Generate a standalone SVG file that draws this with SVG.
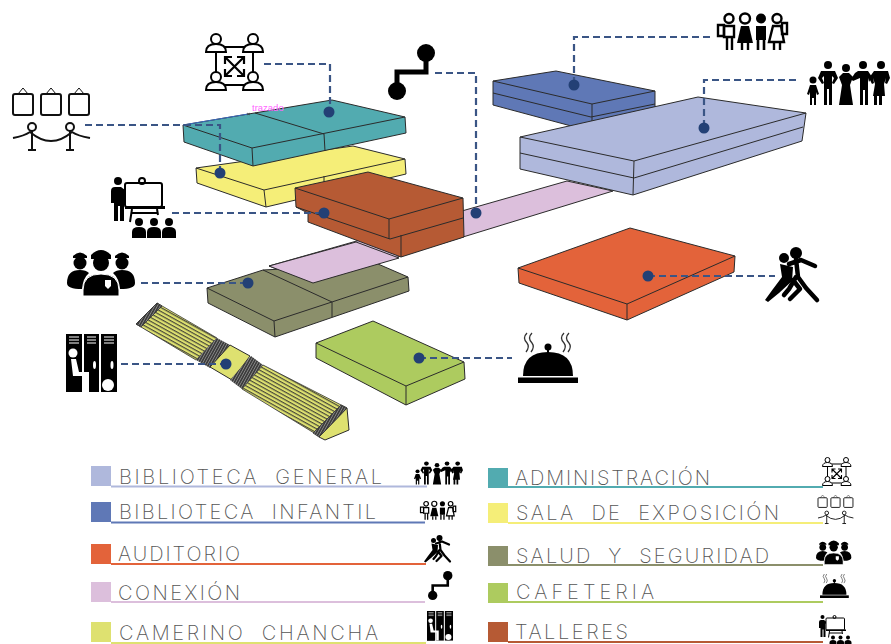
<svg xmlns="http://www.w3.org/2000/svg" width="891" height="644" viewBox="0 0 891 644">
<style>
.e{stroke:#2b2b2b;stroke-width:1;stroke-linejoin:round}
.l{fill:none;stroke:#2b2b2b;stroke-width:1}
.teal{fill:#52ABB0}.yel{fill:#F5EE78}.bro{fill:#B65A34}.pin{fill:#DCBFDC}.oli{fill:#8B8F6B}.gre{fill:#ADCB5F}.cam{fill:#DEE170}.ora{fill:#E3633A}.lil{fill:#AFB8DC}.blu{fill:#5F78B6}
.c{fill:none;stroke:#3A5585;stroke-width:2.2;stroke-dasharray:7 4}
.d{fill:#234075}
.t{font-family:"Inter","Liberation Sans",sans-serif;font-weight:200;font-size:20px;fill:#555;word-spacing:8px}
.u{stroke-width:2;fill:none}
</style>
<defs>
<pattern id="st" width="5" height="3.4" patternUnits="userSpaceOnUse" patternTransform="rotate(29)">
<rect width="5" height="3.4" fill="#DEE170"/><rect y="0" width="5" height="1.200" fill="#4a4a3a"/>
</pattern>
<pattern id="dk" width="2.4" height="5" patternUnits="userSpaceOnUse" patternTransform="rotate(29)">
<rect width="2.4" height="5" fill="#3c3c3c"/><rect width="0.8" height="5" fill="#8a8a8a"/>
</pattern>
<g id="ico-admin">
<rect x="11" y="14" width="37" height="38" fill="none" stroke="#000" stroke-width="2"/>
<g fill="#fff" stroke="#000" stroke-width="2">
<path d="M1 19c0-6 5-8 10-8s10 2 10 8z"/><circle cx="11" cy="6" r="5"/>
<path d="M38 19c0-6 5-8 10-8s10 2 10 8z"/><circle cx="48" cy="6" r="5"/>
<path d="M1 57c0-6 5-8 10-8s10 2 10 8z"/><circle cx="11" cy="44" r="5"/>
<path d="M38 57c0-6 5-8 10-8s10 2 10 8z"/><circle cx="48" cy="44" r="5"/>
</g>
<path d="M20 24L39 43M39 24L20 43M20 31V24H27M32 24H39V31M20 36V43H27M32 43H39V36" fill="none" stroke="#000" stroke-width="2.2"/>
</g>
<g id="ico-expo" fill="none" stroke="#111" stroke-width="2">
<rect x="0" y="6" width="20" height="21" rx="2"/><rect x="28" y="6" width="20" height="21" rx="2"/><rect x="56" y="6" width="20" height="21" rx="2"/>
<path stroke-width="1" d="M5 6L10 0L15 6M33 6L38 0L43 6M61 6L66 0L71 6"/>
<circle cx="19" cy="39" r="4"/><circle cx="57" cy="39" r="4"/>
<path d="M19 43V62M15 62H23M57 43V62M53 62H61M0 50Q11 48 17 44Q38 62 59 44Q65 48 77 50"/>
</g>
<g id="ico-talleres">
<circle cx="7" cy="4" r="4"/>
<path d="M0 14q0-4 4-4h6l8 6 7-3 1 3-8 4-5-3v27h-4V29h-2v15H3V26H0z"/>
<rect x="14" y="6" width="37" height="24" rx="2" fill="#fff" stroke="#000" stroke-width="2"/>
<circle cx="31" cy="4" r="3" fill="none" stroke="#000" stroke-width="2"/>
<rect x="14" y="29" width="40" height="3"/>
<path d="M21 32L19 45M46 32L47 38M20 36H46" stroke="#000" stroke-width="2" fill="none"/>
<circle cx="28" cy="45" r="4"/><circle cx="43" cy="45" r="4"/><circle cx="58" cy="45" r="4"/>
<path d="M21 61v-6q0-5 7-5t7 5v6zM36 61v-6q0-5 7-5t7 5v6zM51 61v-6q0-5 7-5t7 5v6z"/>
</g>
<g id="ico-conexion">
<circle cx="38" cy="9" r="9"/><circle cx="9" cy="47" r="9"/>
<path d="M38 9V28H9V47" fill="none" stroke="#000" stroke-width="5"/>
</g>
<g id="ico-infantil">
<g fill="#fff" stroke="#000" stroke-width="2.4"><circle cx="12" cy="5.5" r="4.5"/><path d="M7 13h10v11H7z"/><circle cx="60" cy="5.5" r="4.5"/><path d="M56 13h8l3 16H52z"/></g>
<path fill="none" stroke="#000" stroke-width="2.4" d="M1 12h6v11H1zM65 10h5v11h-5zM10 24V37M15 24V37M57 29V37M63 29V37"/>
<circle cx="28" cy="5.5" r="5" fill="#fff" stroke="#000" stroke-width="2.4"/>
<path d="M24 13h8l4 17H20z"/><path d="M25 30V37M31 30V37" stroke="#000" stroke-width="2.4"/>
<circle cx="44" cy="5.5" r="5"/><path d="M39 13h10v14H39z"/><path d="M41 27V37M47 27V37" stroke="#000" stroke-width="2.6"/>
</g>
<g id="ico-general">
<circle cx="6" cy="20" r="3.5"/><path d="M3 25h6l3 9-2 1-1-3v13H7v-7H5v7H3V32l-1 3-2-1z"/>
<circle cx="21" cy="5" r="4"/><path d="M14 11h14l3 7-4 6-2-1 2-5-2-2v29h-3V29h-2v16h-3V16l-2 2 2 5-2 1-4-6z"/>
<circle cx="39" cy="8" r="4"/><path d="M36 13h6l4 4-3 8 3 20H32l3-20-3-8z"/>
<circle cx="56" cy="5" r="4"/><path d="M48 13l3-2h10l4 6-3 5-1-4v27h-3V30h-2v15h-3V18l-7 3-2-2z"/>
<circle cx="74" cy="5" r="4"/><path d="M67 11h14l2 7-3 6-2-1 1-5-2 6 1 12h-3v9h-3v-9h-2v9h-3v-9h-1l2-12-2-6 1 5-2 1-3-6z"/>
</g>
<g id="ico-salud">
<path d="M0 36q0-13 13-13q6 0 9 3q-6 5-7 16Q0 42 0 36zM68 36q0-13-13-13q-6 0-9 3q6 5 7 16Q68 42 68 36z"/>
<circle cx="13" cy="16" r="6.5"/><circle cx="55" cy="16" r="6.5"/>
<path d="M6 9Q13 2 20 9v2H6zM48 9Q55 2 62 9v2H48z"/>
<circle cx="34" cy="16" r="8"/><path d="M24 8Q34-2 44 8v4H24z"/>
<path d="M16 49V43Q16 27 34 27Q52 27 52 43V49z" stroke="#fff" stroke-width="1"/>
<path d="M38 33h6v6l-3 3-3-3z" fill="#fff"/>
</g>
<g id="ico-locker">
<rect x="0" width="16" height="58"/><rect x="18" width="15" height="58"/><rect x="35" width="16" height="58"/>
<path d="M3 3h10M3 6h10M3 9h10M21 3h9M21 6h9M21 9h9M38 3h10M38 6h10M38 9h10" stroke="#fff" stroke-width="1"/>
<circle cx="7" cy="19" r="4.5" fill="#fff"/>
<path d="M5 25h5l3 13h10v20h-5V42H7z" fill="#fff"/><path d="M0 47h15v11H0z"/>
<ellipse cx="28.500" cy="31" rx="1.500" ry="4" fill="#fff"/><ellipse cx="46" cy="31" rx="1.500" ry="4" fill="#fff"/>
<circle cx="42" cy="51" r="6" fill="#fff"/>
</g>
<g id="ico-cloche">
<path d="M5 43Q5 19 30 19Q55 19 55 43z"/><circle cx="30" cy="14" r="3.500"/><path d="M30 14V20" stroke="#000" stroke-width="2"/>
<rect y="44.500" width="60" height="5.500"/>
<path d="M9 0q-5 5 0 10q3 4-1 9M14 0q-5 5 0 10q3 4-1 9M46 0q-5 5 0 10q3 4-1 9M51 0q-5 5 0 10q3 4-1 9" fill="none" stroke="#333" stroke-width="1.300"/>
</g>
<g id="ico-tango">
<circle cx="31" cy="6" r="6"/><circle cx="19" cy="11" r="5"/>
<path d="M15 17L28 20L27 34L14 46L3 55L0 53L8 42L17 30z"/>
<path d="M24 17L36 13L50 19M31 12L33 30L41 41L52 53M31 30L24 42L19 48M28 33L35 42L25 52" fill="none" stroke="#000" stroke-width="4.500" stroke-linecap="round" stroke-linejoin="round"/>
</g>
</defs>
<g id="conexion-volume"><polygon class="pin e" points="269,266 567,181 613,191 313,283"/></g>
<g id="biblioteca-infantil">
<polygon class="blu e" points="493,81 556,71 655,91 655,107 575,127 493,105"/>
<path class="l" d="M493 81L592 104L655 91M592 104V128M493 93L591 117L655 104"/>
<use href="#ico-infantil" x="717" y="13"/>
</g>
<g id="biblioteca-general">
<polygon class="lil e" points="520,137 698,97 806,113 802,141 633,195 520,169"/>
<path class="l" d="M520 137L634 161L806 113M634 161L633 195M520 153L634 178L803 127"/>
<use href="#ico-general" x="807" y="60"/>
</g>
<g id="sala-exposicion">
<polygon class="yel e" points="196,168 353,146 405,159 406,174 266,207 197,183"/>
<path class="l" d="M196 168L264 190L405 159M264 190L266 207M324 176V195"/>
<use href="#ico-expo" x="13" y="88"/>
</g>
<g id="administracion">
<polygon class="teal e" points="183,125 332,100 405,117 406,133 253,166 184,142"/>
<path class="l" d="M183 125L252 148L405 117M252 148L253 166M255 113L324 134L325 151"/>
<path d="M183 125L248 114" stroke="#3a6ac0" stroke-width="1" fill="none"/>
<path d="M247 113l3 2M250 113l-3 2" stroke="#333" stroke-width=".6"/>
<text x="252" y="111" font-family="Liberation Sans, sans-serif" font-size="9.500" fill="#ff66ff">trazado</text>
<use href="#ico-admin" x="205" y="33"/>
</g>
<g id="salud-seguridad">
<polygon class="oli e" points="207,288 263,270 378,264 408,277 409,291 275,337 208,303"/>
<path class="l" d="M207 288L274 321L408 277M274 321L275 337M263 270L332 302L332 317"/>
<use href="#ico-salud" x="67" y="247"/>
</g>
<g id="conexion-front"><polygon class="pin e" points="269,266 356,242 399,258 313,283"/><use href="#ico-conexion" x="388" y="44"/></g>
<g id="talleres">
<polygon class="bro e" points="295,188 368,172 463,198 464,237 401,257 308,222 308,213 296,207"/>
<path class="l" d="M295 188L389 219L463 198M389 219V239M296 207L390 239L463 218M401 235V257"/>
<use href="#ico-talleres" x="111" y="177"/>
</g>
<g id="auditorio">
<polygon class="ora e" points="518,268 630,228 735,256 734,272 627,320 519,283"/>
<path class="l" d="M518 268L627 304L735 256M627 304V320"/>
<use href="#ico-tango" x="765" y="247"/>
</g>
<g id="cafeteria">
<polygon class="gre e" points="316,343 373,321 464,362 465,379 406,405 316,358"/>
<path class="l" d="M316 343L406 386L464 362M406 386V405"/>
<use href="#ico-cloche" x="518" y="333"/>
</g>
<g id="camerino">
<polygon class="cam e" points="319,437 347,408 349,430 325,440"/>
<polygon fill="url(#st)" stroke="#333" stroke-width=".8" points="157,303 136,324 196,360 217,338"/>
<polygon fill="url(#dk)" stroke="#333" stroke-width=".8" points="157,303 136,324 141,327 162,306"/>
<polygon fill="url(#dk)" points="217,338 196,360 210,368 230,345"/>
<polygon class="cam e" points="230,345 250,356 232,380 210,367"/>
<polygon fill="url(#dk)" points="251,356 230,380 242,389 263,365"/>
<polygon fill="url(#st)" stroke="#333" stroke-width=".8" points="263,365 242,389 319,436 347,408"/>
<polygon fill="url(#dk)" stroke="#333" stroke-width=".8" points="341,405 313,433 319,437 347,408"/>
<use href="#ico-locker" x="66" y="334"/>
</g>
<g id="connectors">
<path class="c" d="M264 64H330V112"/>
<path class="c" d="M85 125H220V173"/>
<path class="c" d="M172 213H324"/>
<path class="c" d="M435 73H476V213"/>
<path class="c" d="M710 37H574V85"/>
<path class="c" d="M796 80H704V128"/>
<path class="c" d="M141 283H248"/>
<path class="c" d="M121 364H226"/>
<path class="c" d="M419 358H512"/>
<path class="c" d="M648 276H775"/>
<circle class="d" cx="329" cy="112" r="5.500"/><circle class="d" cx="220" cy="173" r="5.500"/><circle class="d" cx="324" cy="213" r="5.500"/><circle class="d" cx="476" cy="213" r="5.500"/><circle class="d" cx="574" cy="85" r="5.500"/><circle class="d" cx="704" cy="128" r="5.500"/><circle class="d" cx="248" cy="283" r="5.500"/><circle class="d" cx="226" cy="364" r="5.500"/><circle class="d" cx="419" cy="358" r="5.500"/><circle class="d" cx="648" cy="276" r="5.500"/>
</g>
<g id="legend">
<g id="lg-general"><rect class="lil" x="91" y="466" width="20" height="20"/><path class="u" stroke="#AFB8DC" d="M111 486.500H427"/><text class="t" x="119" y="484" textLength="263">BIBLIOTECA GENERAL</text><use href="#ico-general" transform="translate(414 461) scale(.59 .52)"/></g>
<g id="lg-infantil"><rect class="blu" x="91" y="502" width="20" height="20"/><path class="u" stroke="#5F78B6" d="M111 522.500H425"/><text class="t" x="119" y="519" textLength="257">BIBLIOTECA INFANTIL</text><use href="#ico-infantil" transform="translate(420 501) scale(.51)"/></g>
<g id="lg-auditorio"><rect class="ora" x="91" y="544" width="20" height="20"/><path class="u" stroke="#E3633A" d="M111 564H426"/><text class="t" x="118" y="561" textLength="122">AUDITORIO</text><use href="#ico-tango" transform="translate(424 535) scale(.5)"/></g>
<g id="lg-conexion"><rect class="pin" x="91" y="582" width="20" height="20"/><path class="u" stroke="#DCBFDC" d="M111 602H425"/><text class="t" x="118" y="600" textLength="122">CONEXIÓN</text><use href="#ico-conexion" transform="translate(428 571) scale(.52)"/></g>
<g id="lg-camerino"><rect class="cam" x="91" y="622" width="20" height="20"/><path class="u" stroke="#DEE170" d="M111 643H426"/><text class="t" x="119" y="640" textLength="259">CAMERINO CHANCHA</text><use href="#ico-locker" transform="translate(427 611) scale(.51)"/></g>
<g id="lg-admin"><rect class="teal" x="488" y="468" width="20" height="20"/><path class="u" stroke="#52ABB0" d="M508 487H823"/><text class="t" x="515" y="485" textLength="195">ADMINISTRACIÓN</text><use href="#ico-admin" transform="translate(822 457) scale(.5)"/></g>
<g id="lg-expo"><rect class="yel" x="488" y="503" width="20" height="20"/><path class="u" stroke="#F5EE78" d="M508 523H823"/><text class="t" x="516" y="520" textLength="263">SALA DE EXPOSICIÓN</text><use href="#ico-expo" transform="translate(818 495) scale(.46)"/></g>
<g id="lg-salud"><rect class="oli" x="488" y="546" width="20" height="20"/><path class="u" stroke="#8B8F6B" d="M508 565H823"/><text class="t" x="516" y="563" textLength="253">SALUD Y SEGURIDAD</text><use href="#ico-salud" transform="translate(816 539) scale(.52)"/></g>
<g id="lg-cafeteria"><rect class="gre" x="488" y="583" width="20" height="20"/><path class="u" stroke="#ADCB5F" d="M508 602H823"/><text class="t" x="516" y="599" textLength="138">CAFETERIA</text><use href="#ico-cloche" transform="translate(820 574) scale(.48)"/></g>
<g id="lg-talleres"><rect class="bro" x="488" y="622" width="20" height="20"/><path class="u" stroke="#B65A34" d="M508 642H823"/><text class="t" x="515" y="639" textLength="113">TALLERES</text><use href="#ico-talleres" transform="translate(819 615) scale(.5)"/></g>
</g>
</svg>
